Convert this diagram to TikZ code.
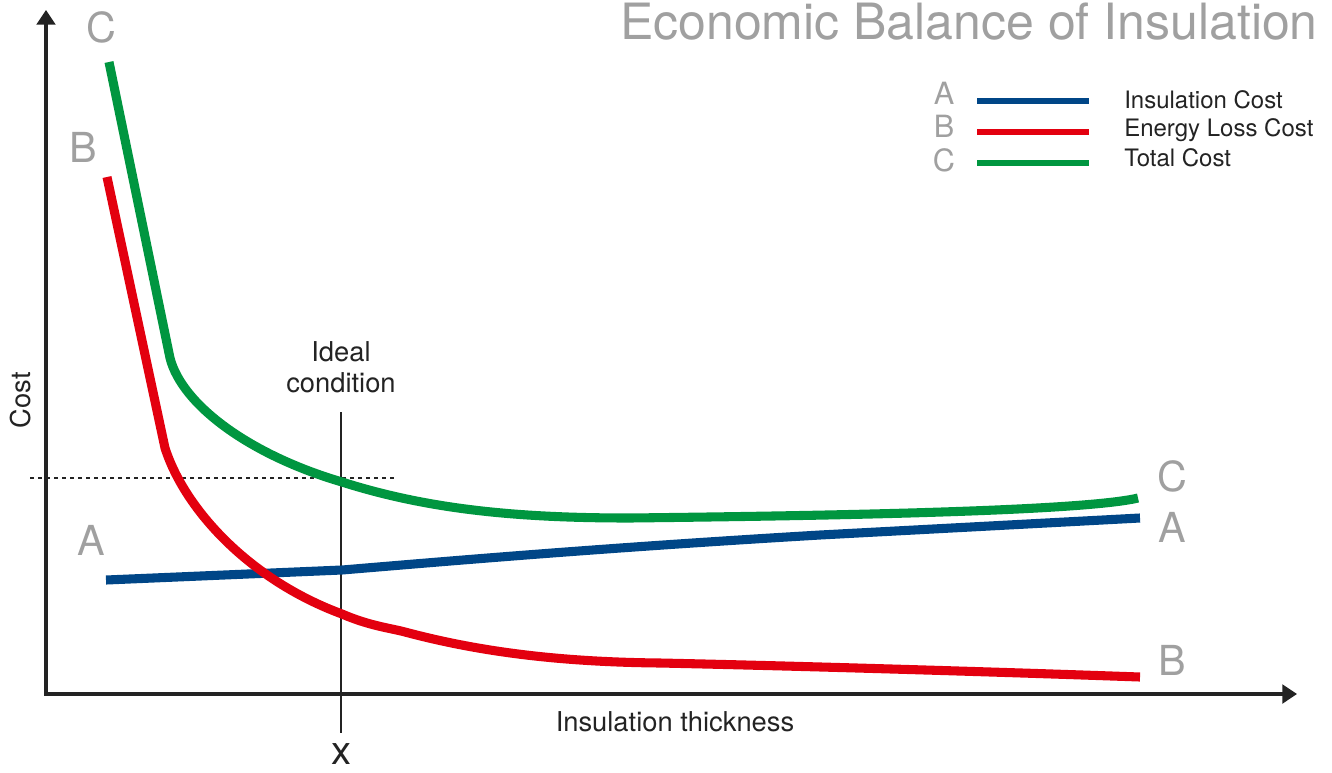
\documentclass[tikz,border=0pt]{standalone}
\usepackage{fontspec}
\setmainfont{TeX Gyre Heros}
\usetikzlibrary{arrows.meta}
\definecolor{insblue}{RGB}{0,70,135}
\definecolor{lossred}{RGB}{227,0,15}
\definecolor{totgreen}{RGB}{0,150,64}
\definecolor{lblgray}{RGB}{160,160,160}
\definecolor{txtdark}{RGB}{35,35,35}

\begin{document}
\begin{tikzpicture}[x=0.75pt,y=0.75pt,yscale=-1,xscale=1,
  curve/.style={line width=6.8pt},
  keyline/.style={line width=5pt},
  bigletter/.style={text=lblgray,inner sep=0pt,font=\fontsize{31}{31}\selectfont},
  keyletter/.style={text=lblgray,inner sep=0pt,font=\fontsize{23}{23}\selectfont},
  keytext/.style={text=txtdark,anchor=west,inner sep=0pt,font=\fontsize{18}{18}\selectfont},
  axislabel/.style={text=txtdark,inner sep=0pt,font=\fontsize{20.5}{20.5}\selectfont},
  axis/.style={line width=2.4pt,color=txtdark,-{Triangle[width=14pt,length=11pt]}}]
\useasboundingbox (0,0) rectangle (1332,772);

%Axes
\coordinate (origin) at (46,694);
\coordinate (ytop) at (46,10);
\coordinate (xend) at (1297,694);
\draw [axis] (origin) -- (ytop);
\draw [axis] ([xshift=-1.2pt]origin) -- (xend);

%Dashed level line
\draw [dashed, line width=0.8pt, color=txtdark] (30,478) -- (396,478);
%Ideal condition line
\draw [line width=1.6pt, color=txtdark] (341,412) -- (341,733);

%Curve A : insulation cost
\draw [curve, color=insblue] (106,580) -- (342,570) .. controls (450,561) and (600,548) .. (820,535) -- (1140,518);
%Curve B : energy loss cost
\draw [curve, color=lossred] (107,177) -- (165,448) .. controls (185,510) and (250,580) .. (342,614) .. controls (370,626) and (390,628) .. (405,632) .. controls (480,652) and (560,662) .. (660,663) .. controls (800,666) and (1000,672) .. (1140,677);
%Curve C : total cost
\draw [curve, color=totgreen] (109,62) -- (170,358) .. controls (182,405) and (250,455) .. (342,482) .. controls (430,510) and (520,518) .. (630,518) .. controls (800,516) and (1080,512) .. (1138,498);

% Curve letters
\node [bigletter] (cleft) at (101,27) {C};
\node [bigletter] (bleft) at (83,147) {B};
\node [bigletter] (aleft) at (91,540) {A};
\node [bigletter] (cright) at (1172,476) {C};
\node [bigletter] (aright) at (1172,527) {A};
\node [bigletter] (bright) at (1172,660) {B};

% Title
\node [anchor=east, text=lblgray, inner sep=0pt, font=\fontsize{37.5}{37.5}\selectfont] (title) at (1318,22) {Economic Balance of Insulation};

% Legend
\node [keyletter] (keya) at (944,93) {A};
\node [keyletter] (keyb) at (944,126) {B};
\node [keyletter] (keyc) at (944,160) {C};
\draw [keyline, color=insblue] (977,101) -- (1089,101);
\draw [keyline, color=lossred] (977,132) -- (1089,132);
\draw [keyline, color=totgreen] (977,163) -- (1089,163);
\node [keytext] (keyains) at (1124,100) {Insulation Cost};
\node [keytext] (keyloss) at (1124,130) {Energy Loss Cost};
\node [keytext] (keytot) at (1124,158) {Total Cost};

% Axis texts
\node [axislabel, rotate=90] (cost) at (21,400) {Cost};
\node [axislabel] (thick) at (675,722) {Insulation thickness};
\node [axislabel, align=center] (ideal) at (341,367) {Ideal\\[3pt]condition};
\node [text=txtdark, inner sep=0pt, font=\fontsize{30}{30}\selectfont] (xmark) at (341,754) {x};

\end{tikzpicture}
\end{document}
